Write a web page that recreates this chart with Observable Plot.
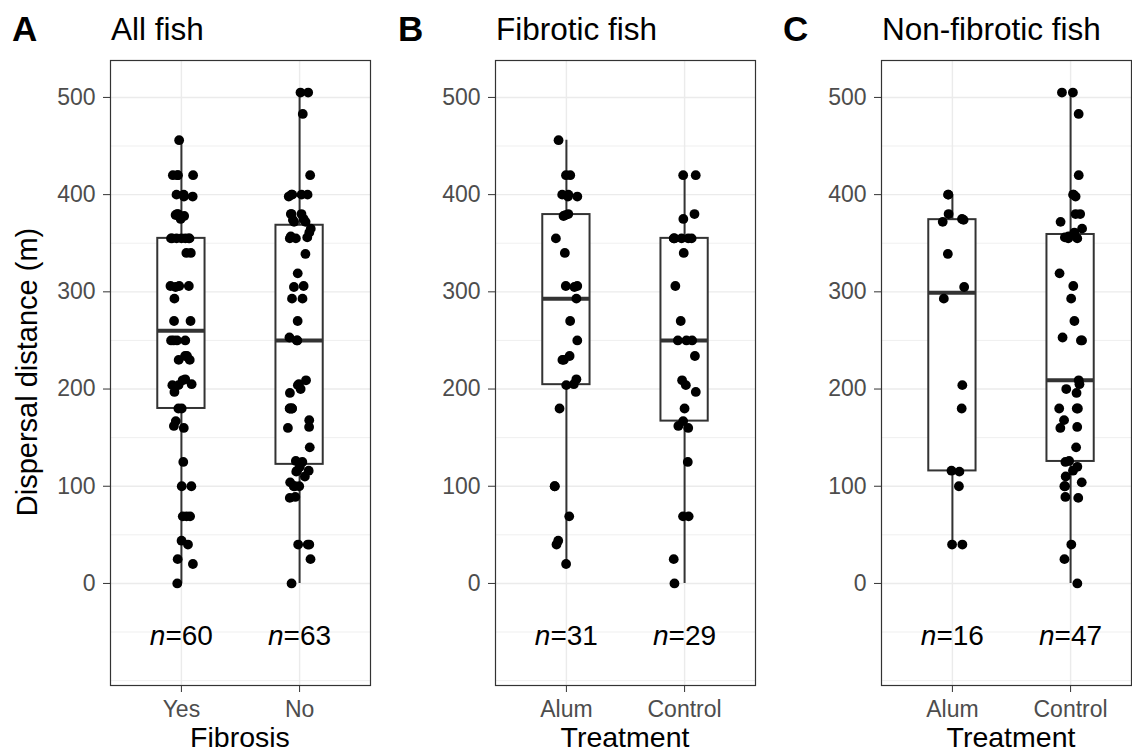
<!DOCTYPE html>
<html><head><meta charset="utf-8">
<script src="https://cdn.jsdelivr.net/npm/d3@7"></script>
<script src="https://cdn.jsdelivr.net/npm/@observablehq/plot@0.6"></script>
<style>
body{margin:0;background:#fff;}
#wrap{position:relative;width:1132px;height:754px;overflow:hidden;font-family:"Liberation Sans",Arial,Helvetica,sans-serif;background:#fff;}
#wrap svg{position:absolute;top:0;}
</style></head><body><div id="wrap"></div>
<script>
// ---- data (dispersal distance, m) ----
const fibroticAlum = [20,40,44,69,100,100,180,204,205,210,230,230,234,250,270,293,305,306,306,340,355,378,379,380,398,398,400,400,420,420,456];
const fibroticControl = [0,25,69,69,125,160,162,167,180,197,204,209,234,250,250,250,270,306,340,355,355,355,355,355,355,375,380,420,420];
const nonFibroticAlum = [40,40,100,115,116,180,204,293,305,339,372,374,375,380,400,400];
const nonFibroticControl = [0,25,40,88,89,100,100,104,110,116,120,125,126,140,160,161,168,180,180,180,196,200,205,209,250,250,253,270,293,306,319,355,355,356,357,361,365,372,380,380,398,400,400,420,483,505,505];
const allFishYes = fibroticAlum.concat(fibroticControl);
const allFishNo = nonFibroticAlum.concat(nonFibroticControl);

const panelTags = ["A", "B", "C"];
const panelTitles = ["All fish", "Fibrotic fish", "Non-fibrotic fish"];
const xTitles = ["Fibrosis", "Treatment", "Treatment"];
const categoriesA = ["Yes", "No"];
const categoriesB = ["Alum", "Control"];
const categoriesC = ["Alum", "Control"];
const yTicks = [0, 100, 200, 300, 400, 500];
const yMinorTicks = [-100, -50, 50, 150, 250, 350, 450];
const yTitle = "Dispersal distance (m)";

const FONT = '"Liberation Sans", Arial, Helvetica, sans-serif';
const wrap = document.getElementById("wrap");

function boxStats(vals, i) {
  const s = vals.slice().sort(d3.ascending);
  const q1 = d3.quantile(s, 0.25), med = d3.quantile(s, 0.5), q3 = d3.quantile(s, 0.75);
  const iqr = q3 - q1;
  const lo = d3.min(s.filter(v => v >= q1 - 1.5 * iqr));
  const hi = d3.max(s.filter(v => v <= q3 + 1.5 * iqr));
  return {i, q1, med, q3, lo, hi, n: s.length};
}

const panels = [
  {cats: categoriesA, groups: [allFishYes, allFishNo], left: 0, frameW: 260, seed: 0.11},
  {cats: categoriesB, groups: [fibroticAlum, fibroticControl], left: 385, frameW: 260, seed: 0.37},
  {cats: categoriesC, groups: [nonFibroticAlum, nonFibroticControl], left: 771, frameW: 250, seed: 0.73}
];

const unitPx = 260 / 2.2;
const halfBox = 0.2;

panels.forEach((p, k) => {
  // horizontal jitter only (visual spread, not data)
  const rng = d3.randomLcg(p.seed);
  const pts = [];
  p.groups.forEach((vals, gi) => vals.forEach(v => pts.push({i: gi + 1, v, jx: gi + 1 + (rng() * 2 - 1) * 0.1})));
  const st = p.groups.map((vals, gi) => boxStats(vals, gi + 1));
  const xMax = 0.4 + p.frameW / unitPx;
  const marginRight = 2;
  const svg = Plot.plot({
    width: 110 + p.frameW + marginRight,
    height: 754,
    marginLeft: 110, marginRight, marginTop: 60, marginBottom: 69,
    style: {fontFamily: FONT, background: "transparent", overflow: "visible"},
    x: {type: "linear", domain: [0.4, xMax], axis: null},
    y: {domain: [-105, 538], axis: null},
    marks: [
      Plot.gridY(yMinorTicks, {stroke: "#EBEBEB", strokeOpacity: 1, strokeWidth: 0.8}),
      Plot.gridY(yTicks, {stroke: "#EBEBEB", strokeOpacity: 1, strokeWidth: 1.4}),
      Plot.gridX([1, 2], {stroke: "#EBEBEB", strokeOpacity: 1, strokeWidth: 1.4}),
      Plot.ruleX(st, {x: "i", y1: "lo", y2: "hi", stroke: "#333333", strokeWidth: 2}),
      Plot.rect(st, {x1: d => d.i - halfBox, x2: d => d.i + halfBox, y1: "q1", y2: "q3", fill: "white", stroke: "#333333", strokeWidth: 2}),
      Plot.ruleY(st, {y: "med", x1: d => d.i - halfBox, x2: d => d.i + halfBox, stroke: "#333333", strokeWidth: 4}),
      Plot.dot(pts, {x: "jx", y: "v", r: 4.9, fill: "black", stroke: "none"}),
      Plot.text(st, {x: "i", y: -54, text: () => "n", fontStyle: "italic", textAnchor: "end", dx: -16, fontSize: 28, fill: "black"}),
      Plot.text(st, {x: "i", y: -54, text: d => "=" + d.n, textAnchor: "start", dx: -16, fontSize: 28, fill: "black"}),
      Plot.axisY(yTicks, {tickSize: 7, tickPadding: 8, fontSize: 23, stroke: "#333333", fill: "#4D4D4D", label: null}),
      Plot.axisX([1, 2], {tickFormat: d => p.cats[d - 1], tickSize: 7, tickPadding: 8, fontSize: 23, stroke: "#333333", fill: "#4D4D4D", label: null}),
      Plot.frame({stroke: "#333333", strokeWidth: 1.2})
    ]
  });
  svg.style.left = p.left + "px";
  wrap.appendChild(svg);
  p.frameLeft = p.left + 110;
});

// titles, tags and axis titles
const ov = d3.select(wrap).append("svg")
  .attr("width", 1132).attr("height", 754)
  .style("left", "0px").style("pointer-events", "none")
  .style("font-family", FONT);
const tagX = [12, 398, 783];
panels.forEach((p, k) => {
  ov.append("text").attr("x", tagX[k]).attr("y", 41).attr("font-size", 35).attr("font-weight", "bold").attr("fill", "black").text(panelTags[k]);
  ov.append("text").attr("x", p.frameLeft + 1).attr("y", 40).attr("font-size", 31.5).attr("fill", "black").text(panelTitles[k]);
  const cx = p.frameLeft + (1.5 - 0.4) * unitPx;
  ov.append("text").attr("x", cx).attr("y", 747).attr("text-anchor", "middle").attr("font-size", 28.5).attr("fill", "black").text(xTitles[k]);
});
ov.append("text").attr("transform", "translate(37,372) rotate(-90)").attr("text-anchor", "middle").attr("font-size", 29).attr("fill", "black").text(yTitle);
</script>
</body></html>
